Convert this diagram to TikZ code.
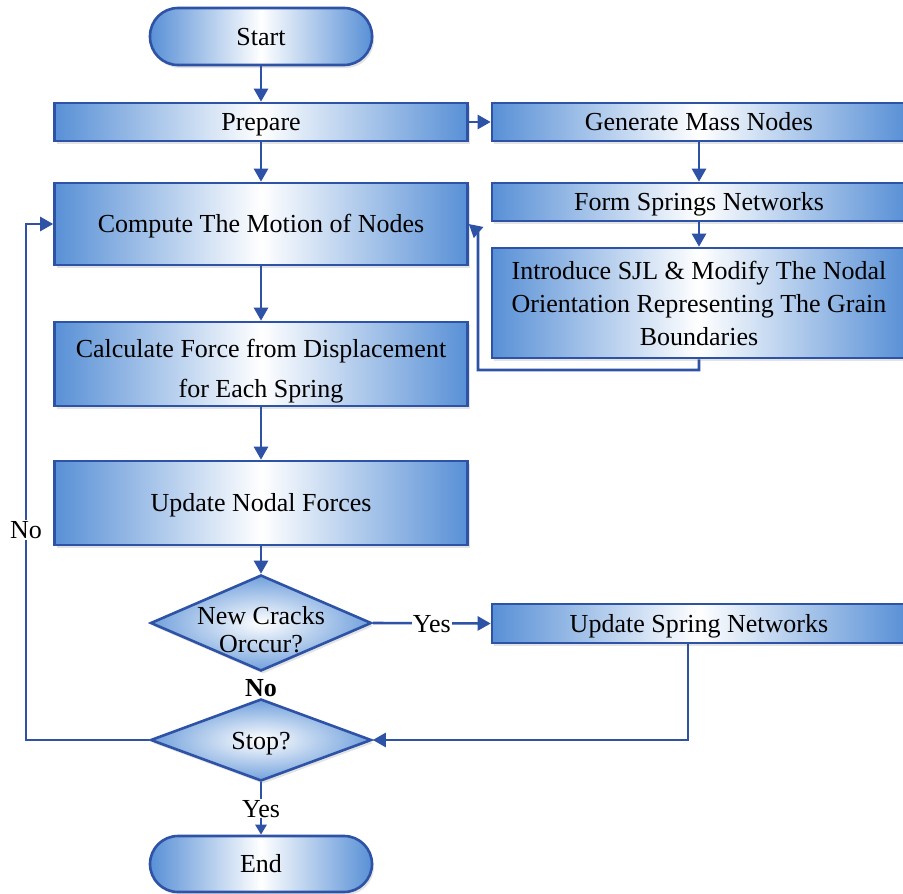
\documentclass[tikz,border=0pt]{standalone}
\usepackage{fontspec}
\setmainfont{Liberation Serif}
\usetikzlibrary{shapes.geometric,arrows.meta,shadows}
\definecolor{bB}{RGB}{46,82,165}
\definecolor{bF}{RGB}{88,144,214}
\begin{document}
\begin{tikzpicture}[x=1pt,y=-1pt,
  font=\fontsize{26}{33}\selectfont,
  shd/.style={drop shadow={opacity=0.22,shadow xshift=2pt,shadow yshift=-3pt}},
  mbox/.style={draw=bB,line width=2.6pt,left color=bF,right color=bF,middle color=white,
    inner sep=0pt,align=center,shd},
  box/.style={mbox,text height=17.5pt,text depth=0pt},
  term/.style={box,rounded corners=28pt},
  dia/.style={draw=bB,line width=2.6pt,shape=diamond,inner sep=0pt,
    inner color=white,outer color=bF!85,shd},
  arr/.style={draw=bB,line width=2.6pt,-{Triangle[width=14pt,length=13pt]}},
  lbl/.style={fill=white,inner sep=1pt},
  one/.style={text height=17.5pt,text depth=0pt}]
\useasboundingbox (0,0) rectangle (903,894);
\node[term,minimum width=222pt,minimum height=57pt] (start) at (261,36.5) {Start};
\node[box,minimum width=413pt,minimum height=38pt] (prep) at (261,122) {Prepare};
\node[box,minimum width=414pt,minimum height=38pt] (gen) at (699,122) {Generate Mass Nodes};
\node[box,minimum width=414pt,minimum height=38pt] (form) at (699,202) {Form Springs Networks};
\node[mbox,minimum width=414pt,minimum height=110pt] (intro) at (699,303)
  {Introduce SJL \& Modify The Nodal\\Orientation Representing The Grain\\Boundaries};
\node[box,minimum width=413pt,minimum height=82pt] (comp) at (261,224) {Compute The Motion of Nodes};
\node[mbox,minimum width=413pt,minimum height=84pt] (calc) at (261,364) {};
\node[align=center] (calct) at (261,371) {Calculate Force from Displacement\\[7pt]for Each Spring};
\node[box,minimum width=413pt,minimum height=84pt] (upd) at (261,503) {Update Nodal Forces};
\node[dia,minimum width=221pt,minimum height=96pt] (d1) at (261,623) {};
\node[align=center] (d1t) at (261,630) {New Cracks\\[-5pt]Orccur?};
\node[box,minimum width=414pt,minimum height=39pt] (us) at (699,623.5) {Update Spring Networks};
\node[dia,minimum width=221pt,minimum height=82pt] (stop) at (261,740) {};
\node[one] (stopt) at (261,741) {Stop?};
\node[term,minimum width=222pt,minimum height=56pt] (end) at (261,864) {End};
\node[one,font=\fontsize{26}{33}\selectfont\bfseries] (no2) at (261,688) {No};

\draw[arr] (start.south) -- (prep.north);
\draw[arr] (prep.east) -- (gen.west);
\draw[arr] (gen.south) -- (form.north);
\draw[arr] (form.south) -- (intro.north);
\coordinate (fb1) at (478,370);
\coordinate (fb2) at (478,232);
\draw[arr] (intro.south) |- (fb1) -- (fb2) -- (comp.east);
\draw[arr] (prep.south) -- (comp.north);
\draw[arr] (comp.south) -- (calc.north);
\draw[arr] (calc.south) -- (upd.north);
\draw[arr] (upd.south) -- (d1.north);
\draw[arr] (d1.east) -- (us.west) node[lbl,one,pos=0.5] (yes1) {Yes};
\coordinate (l1) at (26,740);
\coordinate (l2) at (26,224);
\draw[arr] (stop.west) -- (l1) -- (l2) -- (comp.west);
\node[lbl,one] (no1) at (26,530) {No};
\coordinate (r1) at (688,643);
\draw[arr] (r1) |- (stop.east);
\draw[draw=bB,line width=2.6pt,-{Triangle[width=11pt,length=10pt]}] (stop.south) -- (end.north) node[lbl,one,midway] (yes2) {Yes};
\end{tikzpicture}
\end{document}
